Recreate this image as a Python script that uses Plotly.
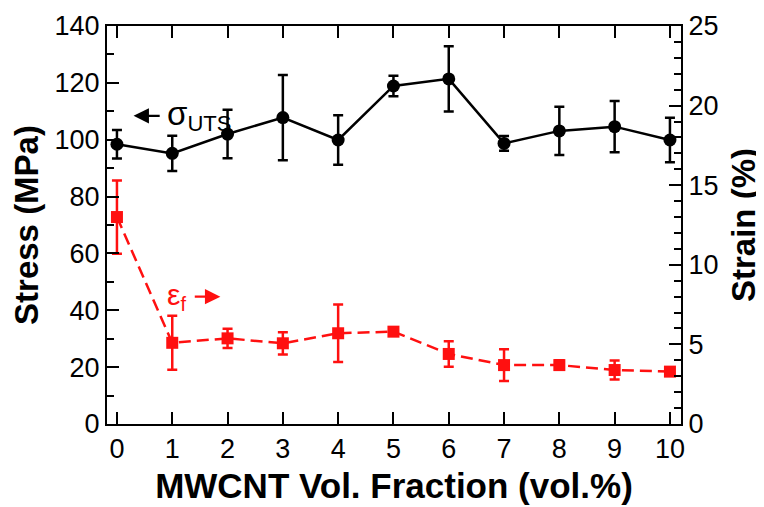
import plotly.graph_objects as go

vol_fraction = [0, 1, 2, 3, 4, 5, 6, 7, 8, 9, 10]
stress_uts = [98.4, 95.2, 102.0, 107.8, 99.9, 118.9, 121.4, 98.7, 103.1, 104.6, 99.9]
stress_err = [5.0, 6.2, 8.5, 15.0, 8.7, 3.6, 11.5, 2.6, 8.5, 9.0, 7.8]
strain_f = [13.0, 5.1, 5.38, 5.07, 5.7, 5.8, 4.4, 3.7, 3.7, 3.39, 3.29]
strain_err = [2.3, 1.7, 0.6, 0.7, 1.8, 0.15, 0.8, 1.0, 0.3, 0.6, 0.15]

stress_ticks = [0, 20, 40, 60, 80, 100, 120, 140]
strain_ticks = [0, 5, 10, 15, 20, 25]

FONT = "Liberation Sans, Arial, sans-serif"
RED = "#ff1010"

fig = go.Figure()
fig.add_trace(go.Scatter(
    x=vol_fraction, y=stress_uts, mode="lines+markers",
    line=dict(color="black", width=2.5),
    marker=dict(symbol="circle", size=13, color="black"),
    error_y=dict(type="data", array=stress_err, visible=True,
                 color="black", thickness=2.5, width=5),
    showlegend=False, yaxis="y", cliponaxis=False,
))
fig.add_trace(go.Scatter(
    x=vol_fraction, y=strain_f, mode="lines+markers",
    line=dict(color=RED, width=2.5, dash="12px,6px"),
    marker=dict(symbol="square", size=12, color=RED),
    error_y=dict(type="data", array=strain_err, visible=True,
                 color=RED, thickness=2.5, width=5),
    showlegend=False, yaxis="y2", cliponaxis=False,
))

# labels
fig.add_annotation(x=0.86, y=108.4, xref="x", yref="y", xanchor="left", yanchor="middle",
                   text="<span style='font-size:33px'>σ</span><sub><span style='font-size:22px'>UTS</span></sub>",
                   showarrow=False, font=dict(family=FONT, size=28, color="black"))
fig.add_annotation(x=0.86, y=8.0, xref="x", yref="y2", xanchor="left", yanchor="middle",
                   text="<span style='font-size:30px'>ε</span><sub><span style='font-size:20px'>f</span></sub>",
                   showarrow=False, font=dict(family=FONT, size=28, color=RED))
# arrows
fig.add_annotation(x=0.30, y=108.4, ax=0.80, ay=108.4, xref="x", yref="y", axref="x", ayref="y",
                   text="", showarrow=True, arrowhead=2, arrowsize=1.4, arrowwidth=2.2,
                   arrowcolor="black", standoff=0, startstandoff=0)
fig.add_annotation(x=1.87, y=8.0, ax=1.38, ay=8.0, xref="x", yref="y2", axref="x", ayref="y2",
                   text="", showarrow=True, arrowhead=2, arrowsize=1.4, arrowwidth=2.2,
                   arrowcolor=RED, standoff=0, startstandoff=0)

axis_common = dict(
    showline=True, linecolor="black", linewidth=2,
    ticks="inside", ticklen=12, tickwidth=2, tickcolor="black",
    showgrid=False, zeroline=False, automargin=False,
    tickfont=dict(family=FONT, size=27, color="black"),
)

# page body adds an 8px offset; size/margins compensate for it
fig.update_layout(
    width=756, height=499,
    margin=dict(l=99, r=83, t=18, b=83),
    plot_bgcolor="white", paper_bgcolor="white",
    xaxis=dict(**axis_common, range=[-0.18, 10.2], tickvals=vol_fraction,
               mirror="ticks",
               title=dict(text="<b>MWCNT Vol. Fraction (vol.%)</b>",
                          font=dict(family=FONT, size=35, color="black"), standoff=10)),
    yaxis=dict(**axis_common, range=[0, 140], tickvals=stress_ticks,
               minor=dict(dtick=10, ticklen=7, tickwidth=2, tickcolor="black", ticks="inside"),
               title=dict(text="<b>Stress (MPa)</b>",
                          font=dict(family=FONT, size=33, color="black"), standoff=8)),
    yaxis2=dict(**axis_common, range=[0, 25], tickvals=strain_ticks,
                overlaying="y", side="right",
                minor=dict(dtick=1, ticklen=7, tickwidth=2, tickcolor="black", ticks="inside"),
                title=dict(text="<b>Strain (%)</b>",
                           font=dict(family=FONT, size=33, color="black"), standoff=14)),
)

fig.write_html("out.html")
